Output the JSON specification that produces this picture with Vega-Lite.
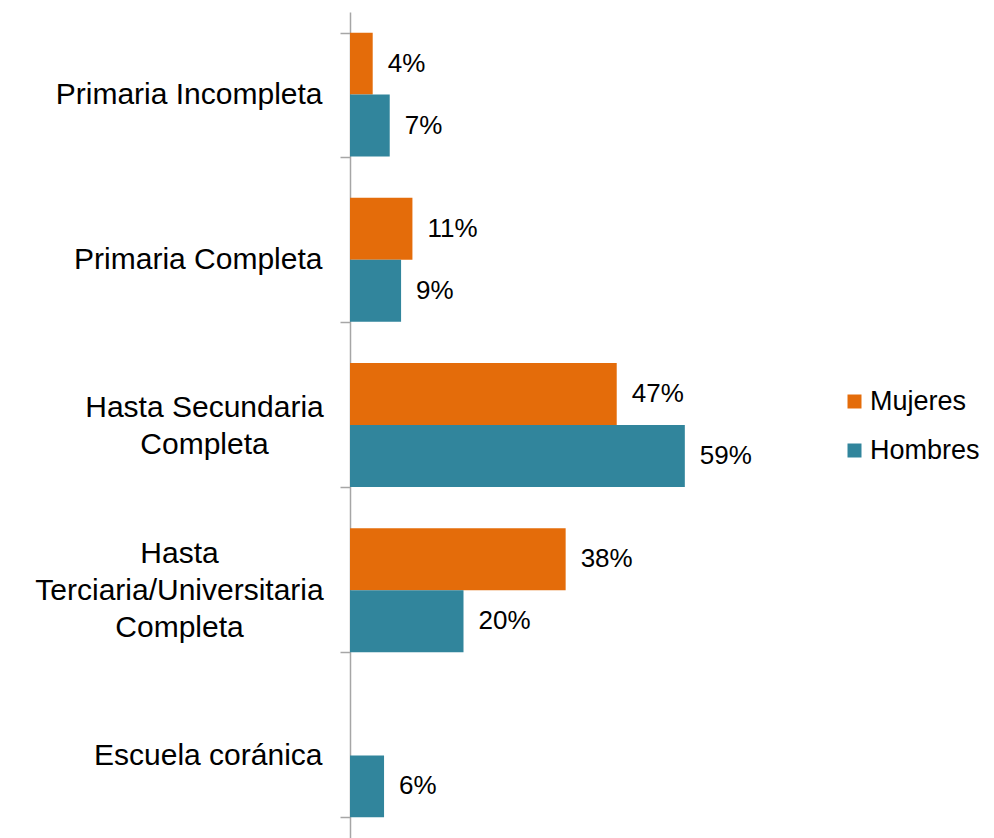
{
  "$schema": "https://vega.github.io/schema/vega-lite/v6.json",
  "autosize": "none",
  "padding": {"left": 350, "top": 12, "right": 190, "bottom": 0},
  "width": 454,
  "height": 826,
  "background": "white",
  "config": {"view": {"stroke": null}, "font": "Liberation Sans"},
  "data": {
    "values": [
      {"nivel": "Primaria Incompleta", "sexo": "Mujeres", "valor": 0.04},
      {"nivel": "Primaria Incompleta", "sexo": "Hombres", "valor": 0.07},
      {"nivel": "Primaria Completa", "sexo": "Mujeres", "valor": 0.11},
      {"nivel": "Primaria Completa", "sexo": "Hombres", "valor": 0.09},
      {"nivel": "Hasta Secundaria|Completa", "sexo": "Mujeres", "valor": 0.47},
      {"nivel": "Hasta Secundaria|Completa", "sexo": "Hombres", "valor": 0.59},
      {"nivel": "Hasta|Terciaria/Universitaria|Completa", "sexo": "Mujeres", "valor": 0.38},
      {"nivel": "Hasta|Terciaria/Universitaria|Completa", "sexo": "Hombres", "valor": 0.20},
      {"nivel": "Escuela coránica", "sexo": "Hombres", "valor": 0.06}
    ]
  },
  "encoding": {
    "y": {
      "field": "nivel",
      "type": "nominal",
      "sort": null,
      "scale": {"domain": ["Primaria Incompleta", "Primaria Completa", "Hasta Secundaria|Completa", "Hasta|Terciaria/Universitaria|Completa", "Escuela coránica"], "paddingInner": 0.25, "paddingOuter": 0.125},
      "axis": {
        "title": null,
        "labelExpr": "isValid(datum.value) ? split(datum.value, '|') : ''",
        "labelFontSize": 30,
        "labelColor": "#000000",
        "labelLineHeight": 37,
        "labelAlign": {
          "condition": [
            {"test": "datum.value == 'Hasta Secundaria|Completa'", "value": "center"},
            {"test": "datum.value == 'Hasta|Terciaria/Universitaria|Completa'", "value": "center"}
          ],
          "value": "right"
        },
        "labelPadding": {
          "condition": [
            {"test": "datum.value == 'Hasta Secundaria|Completa'", "value": 136},
            {"test": "datum.value == 'Hasta|Terciaria/Universitaria|Completa'", "value": 161}
          ],
          "value": 18
        },
        "labelOffset": {
          "condition": [
            {"test": "datum.value == 'Hasta Secundaria|Completa'", "value": -18},
            {"test": "datum.value == 'Hasta|Terciaria/Universitaria|Completa'", "value": -37}
          ],
          "value": 0
        },
        "tickBand": "extent",
        "tickSize": 10,
        "tickColor": "#a6a6a6",
        "domainColor": "#a6a6a6",
        "tickWidth": 1.5,
        "domainWidth": 1.5,
        "labelLimit": 400
      }
    },
    "yOffset": {"field": "sexo", "type": "nominal", "scale": {"domain": ["Mujeres", "Hombres"], "paddingInner": 0, "paddingOuter": 0}},
    "x": {"field": "valor", "type": "quantitative", "scale": {"domain": [0, 0.8]}, "axis": null}
  },
  "layer": [
    {
      "mark": {"type": "bar"},
      "encoding": {
        "color": {
          "field": "sexo",
          "type": "nominal",
          "scale": {"domain": ["Mujeres", "Hombres"], "range": ["#E46C0A", "#31859C"]},
          "legend": {
            "title": null,
            "orient": "none",
            "legendX": 491,
            "legendY": 376,
            "padding": 0,
            "symbolType": "square",
            "symbolSize": 196,
            "symbolStrokeWidth": 0,
            "labelFontSize": 27,
            "labelColor": "#000000",
            "rowPadding": 21,
            "labelOffset": 2
          }
        }
      }
    },
    {
      "mark": {"type": "text", "align": "left", "dx": 15, "fontSize": 26, "color": "#000000"},
      "encoding": {"text": {"field": "valor", "type": "quantitative", "format": ".0%"}, "detail": {"field": "sexo"}}
    }
  ]
}
